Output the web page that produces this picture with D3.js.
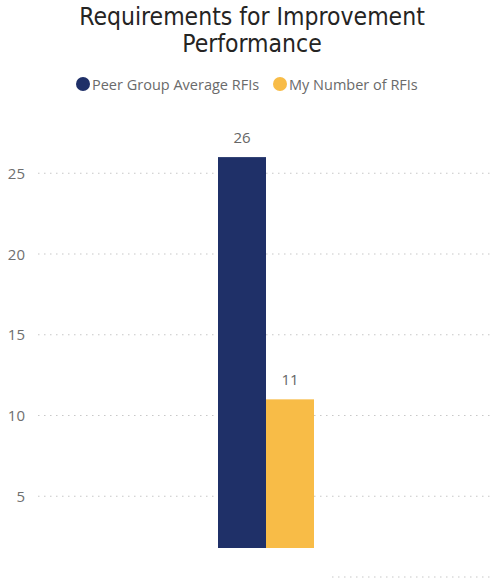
<!DOCTYPE html>
<html>
<head>
<meta charset="utf-8">
<script src="https://cdn.jsdelivr.net/npm/d3@7"></script>
<style>
  html, body { margin: 0; padding: 0; background: #fff; }
  svg { display: block; }
</style>
</head>
<body>
<svg id="chart" width="500" height="579"></svg>
<script>
// Chart data
const categories = ["RFIs"];
const seriesNames = ["Peer Group Average RFIs", "My Number of RFIs"];
const peerValues = [26];
const myValues = [11];
const yTicks = [5, 10, 15, 20, 25];
const seriesColors = ["#1F3068", "#F8BC47"];

const W = 500, H = 579;
const svg = d3.select("#chart");

const plot = { left: 38, right: 494, top: 92.5, bottom: 577 };

const y = d3.scaleLinear().domain([0, 30]).range([plot.bottom, plot.top]);

const x0 = d3.scaleBand().domain(categories)
  .range([plot.left, plot.right]).paddingInner(0).paddingOuter(1.875);
const x1 = d3.scaleBand().domain(seriesNames)
  .range([0, x0.bandwidth()]).padding(0);

// Gridlines
const grid = svg.append("g").attr("class", "grid");
grid.selectAll("line").data([0].concat(yTicks)).join("line")
  .attr("x1", plot.left).attr("x2", 490)
  .attr("y1", d => y(d)).attr("y2", d => y(d))
  .attr("stroke", "#c8c8c8").attr("stroke-width", 1.2)
  .attr("stroke-dasharray", "1.5,4.5");

// Y axis labels
const yAxis = d3.axisLeft(y).tickValues(yTicks).tickSize(0).tickPadding(0);
const ya = svg.append("g").attr("transform", "translate(25,0)").call(yAxis);
ya.select(".domain").remove();
ya.selectAll("text")
  .attr("fill", "#6f6f6f")
  .attr("dy", "0.34em")
  .style("font-family", "'Open Sans', sans-serif")
  .style("font-size", "15px");

// Bars
const rows = categories.map((c, i) => ({
  cat: c,
  values: [
    { key: seriesNames[0], value: peerValues[i], color: seriesColors[0] },
    { key: seriesNames[1], value: myValues[i], color: seriesColors[1] }
  ]
}));

const groups = svg.append("g").selectAll("g").data(rows).join("g")
  .attr("transform", d => `translate(${x0(d.cat)},0)`);

groups.selectAll("rect").data(d => d.values).join("rect")
  .attr("x", d => x1(d.key))
  .attr("width", x1.bandwidth())
  .attr("y", d => y(d.value))
  .attr("height", d => y(0) - y(d.value))
  .attr("fill", d => d.color);

groups.selectAll("text").data(d => d.values).join("text")
  .attr("x", d => x1(d.key) + x1.bandwidth() / 2)
  .attr("y", d => y(d.value) - 14)
  .attr("text-anchor", "middle")
  .attr("fill", "#666")
  .style("font-family", "'Open Sans', sans-serif")
  .style("font-size", "15px")
  .text(d => d3.format("d")(d.value));

// Lower strip of the canvas is blanked where the visual is cut off
svg.append("rect")
  .attr("x", 0).attr("y", 548).attr("width", 328).attr("height", H - 548)
  .attr("fill", "#fff");

// Title
const title = svg.append("text")
  .attr("text-anchor", "middle")
  .attr("fill", "#252423")
  .style("font-family", "'DejaVu Sans Condensed', 'DejaVu Sans', sans-serif")
  .style("font-size", "24.5px");
title.append("tspan").attr("x", 252).attr("y", 25).text("Requirements for Improvement");
title.append("tspan").attr("x", 252).attr("y", 52).text("Performance");

// Legend
const legendItems = [
  { name: seriesNames[0], color: seriesColors[0], cx: 83, tx: 92 },
  { name: seriesNames[1], color: seriesColors[1], cx: 280, tx: 289 }
];
const leg = svg.append("g").selectAll("g").data(legendItems).join("g");
leg.append("circle")
  .attr("cx", d => d.cx).attr("cy", 84).attr("r", 7)
  .attr("fill", d => d.color);
leg.append("text")
  .attr("x", d => d.tx).attr("y", 89.5)
  .attr("fill", "#6a6a6a")
  .style("font-family", "'Open Sans', sans-serif")
  .style("font-size", "14.5px")
  .text(d => d.name);
</script>
</body>
</html>
